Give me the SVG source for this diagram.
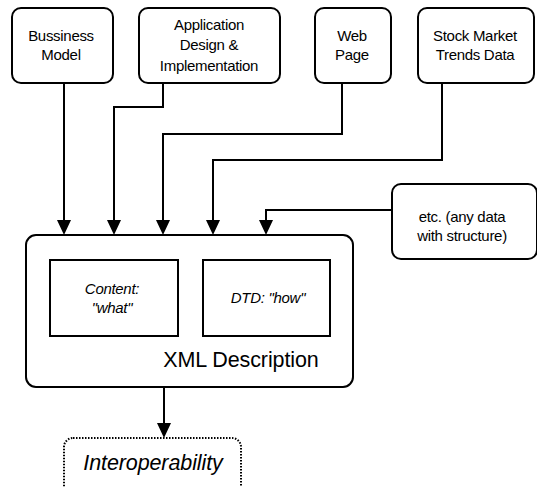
<svg xmlns="http://www.w3.org/2000/svg" width="537" height="487" viewBox="0 0 537 487">
<defs>
<style>
.box{fill:#fff;stroke:#000;stroke-width:2}
.dot{fill:#fff;stroke:#000;stroke-width:2;stroke-dasharray:1.5 1.5}
.t{font-family:"Liberation Sans",Arial,sans-serif;font-size:15px;fill:#000;text-anchor:middle;letter-spacing:-0.3px}
.big{font-size:21.5px;letter-spacing:-0.1px}
.it{font-style:italic}
.c{fill:none;stroke:#000;stroke-width:2}
</style>
<marker id="ah" markerUnits="userSpaceOnUse" markerWidth="16" markerHeight="16" viewBox="0 -8 16 16" refX="4" refY="0" orient="auto">
<path d="M0,-7 L15,0 L0,7 z" fill="#000"/>
</marker>
</defs>
<rect width="537" height="487" fill="#fff"/>
<g id="connectors">
<path class="c" d="M64 83 V224" marker-end="url(#ah)"/>
<path class="c" d="M163 83 V107 H114 V224" marker-end="url(#ah)"/>
<path class="c" d="M342 83 V134 H163 V224" marker-end="url(#ah)"/>
<path class="c" d="M442 83 V160 H213 V224" marker-end="url(#ah)"/>
<path class="c" d="M392 210 H266 V224" marker-end="url(#ah)"/>
<path class="c" d="M164 387 V427" marker-end="url(#ah)"/>
</g>
<g id="bussiness">
<rect class="box" x="12" y="8" width="101" height="75" rx="9"/>
<text class="t" x="61" y="41">Bussiness</text>
<text class="t" x="61" y="60">Model</text>
</g>
<g id="application">
<rect class="box" x="139" y="8" width="141" height="75" rx="9"/>
<text class="t" x="209" y="30">Application</text>
<text class="t" x="209" y="50">Design &amp;</text>
<text class="t" x="209" y="71">Implementation</text>
</g>
<g id="webpage">
<rect class="box" x="315" y="8" width="76" height="75" rx="9"/>
<text class="t" x="352" y="41">Web</text>
<text class="t" x="352" y="60">Page</text>
</g>
<g id="stock">
<rect class="box" x="418" y="8" width="116" height="75" rx="9"/>
<text class="t" x="475" y="41">Stock Market</text>
<text class="t" x="475" y="60">Trends Data</text>
</g>
<g id="etc">
<rect class="box" x="392" y="184" width="145" height="75" rx="9"/>
<text class="t" x="462" y="222">etc. (any data</text>
<text class="t" x="462" y="241">with structure)</text>
</g>
<g id="xml">
<rect class="box" x="26" y="235" width="327" height="152" rx="10"/>
<text class="t big" x="241" y="367">XML Description</text>
</g>
<g id="content">
<rect class="box" x="50" y="260" width="128" height="76"/>
<text class="t it" x="112" y="294">Content:</text>
<text class="t it" x="112" y="313">"what"</text>
</g>
<g id="dtd">
<rect class="box" x="203" y="260" width="127" height="76"/>
<text class="t it" x="268" y="303">DTD: "how"</text>
</g>
<g id="interoperability">
<rect class="dot" x="64" y="438" width="177" height="60" rx="9"/>
<text class="t big it" x="153" y="470">Interoperability</text>
</g>
</svg>
